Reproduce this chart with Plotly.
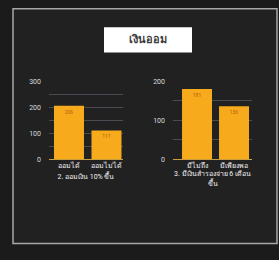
import plotly.graph_objects as go

title_text = "เงินออม"
left_categories = ["ออมได้", "ออมไม่ได้"]
left_values = [206, 111]
left_title = "2. ออมเงิน 10% ขึ้น"
right_categories = ["มีไม่ถึง", "มีเพียงพอ"]
right_values = [181, 136]
right_title = "3. มีเงินสำรองจ่าย 6 เดือน<br>ขึ้น"
left_ticks = [0, 100, 200, 300]
right_ticks = [0, 100, 200]

bar_color = "#f6aa1c"
label_color = "#b8620a"
grid_color = "#4a4a52"
tick_color = "#dcdcdc"
font_family = "Roboto, Noto Sans, DejaVu Sans, sans-serif"

fig = go.Figure()
fig.add_trace(go.Bar(
    x=left_categories, y=left_values, text=[str(v) for v in left_values],
    textposition="inside", insidetextanchor="end",
    textfont=dict(size=5, color=label_color), marker=dict(color=bar_color, line=dict(width=0)),
    width=0.8, xaxis="x", yaxis="y", showlegend=False, cliponaxis=False,
))
fig.add_trace(go.Bar(
    x=right_categories, y=right_values, text=[str(v) for v in right_values],
    textposition="inside", insidetextanchor="end",
    textfont=dict(size=5, color=label_color), marker=dict(color=bar_color, line=dict(width=0)),
    width=0.81, xaxis="x2", yaxis="y2", showlegend=False, cliponaxis=False,
))

y0 = 1 - 160 / 260
y1 = 1 - 80 / 260
common_x = dict(showgrid=False, tickfont=dict(size=7, color="#f2f2f2", family=font_family),
                ticks="", showline=True, linecolor="#c9a040", linewidth=1, fixedrange=True,
                tickangle=0)
common_y = dict(showgrid=True, gridcolor=grid_color, gridwidth=1,
                minor=dict(showgrid=True, gridcolor=grid_color, dtick=50),
                zeroline=False, tickfont=dict(size=7, color=tick_color, family=font_family),
                ticks="", ticklabelstandoff=7, fixedrange=True)
fig.update_layout(
    width=279, height=260, margin=dict(l=0, r=0, t=0, b=0),
    paper_bgcolor="#1b1b1b", plot_bgcolor="rgba(0,0,0,0)",
    font=dict(family=font_family),
    xaxis=dict(domain=[49 / 279, 123 / 279], anchor="y", range=[-0.533, 1.44],
               title=dict(text=left_title, font=dict(size=7, color="#f2f2f2"), standoff=1),
               **common_x),
    yaxis=dict(domain=[y0, y1], anchor="x", range=[0, 300], tickvals=left_ticks, **common_y),
    xaxis2=dict(domain=[173 / 279, 252 / 279], anchor="y2", range=[-0.649, 1.486],
                title=dict(text=right_title, font=dict(size=7, color="#f2f2f2"), standoff=1),
                **common_x),
    yaxis2=dict(domain=[y0, y1], anchor="x2", range=[0, 200], tickvals=right_ticks, **common_y),
    shapes=[
        dict(type="rect", xref="paper", yref="paper", x0=13 / 279, x1=277 / 279,
             y0=1 - 247 / 260, y1=1 - 5 / 260, fillcolor="#212121",
             line=dict(color="#a8a8a8", width=1.5), layer="below"),
        dict(type="rect", xref="paper", yref="paper", x0=104 / 279, x1=192 / 279,
             y0=1 - 50 / 260, y1=1 - 24 / 260, fillcolor="#ffffff",
             line=dict(color="#ffffff", width=0), layer="below"),
    ],
    annotations=[
        dict(text="<b>" + title_text + "</b>", xref="paper", yref="paper", x=148 / 279, y=1 - 37 / 260,
             showarrow=False, font=dict(size=11, color="#3a3a3a", family=font_family),
             xanchor="center", yanchor="middle"),
    ],
)

fig.write_html("out.html", config={"displayModeBar": False},
               post_script="document.body.style.margin='0';document.body.style.background='#1b1b1b';")
